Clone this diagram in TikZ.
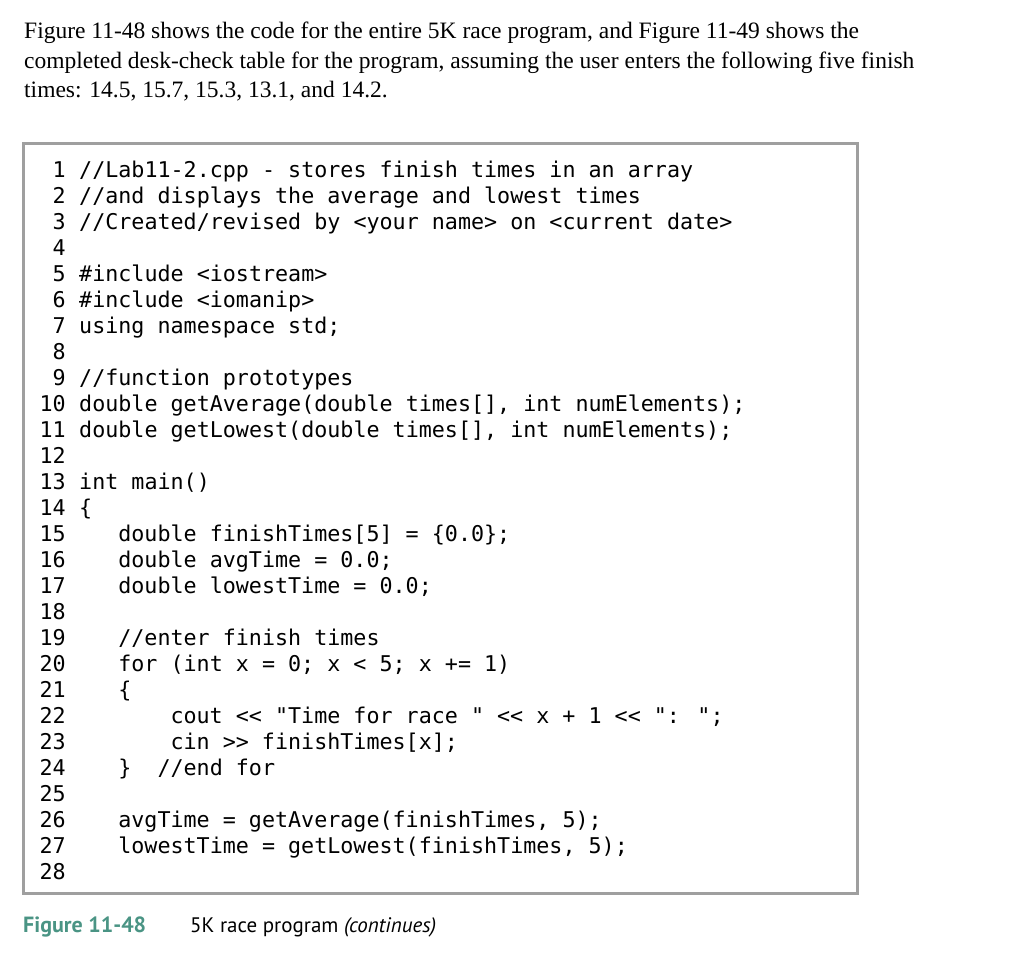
\documentclass[tikz,border=0pt]{standalone}
\usepackage{fontspec}
\setmainfont{Liberation Serif}
\newfontfamily\codefnt{DejaVu Sans Mono}
\newfontfamily\capfnt{PT Sans}
\definecolor{teal1}{HTML}{4A9484}
\begin{document}
\begin{tikzpicture}[x=1pt,y=-1pt,
  para/.style={anchor=base west,inner sep=0,font=\fontsize{23.5}{28}\selectfont},
  num/.style={anchor=base east,inner sep=0,font=\codefnt\fontsize{21.7}{26}\selectfont},
  ln/.style={anchor=base west,inner sep=0,font=\codefnt\fontsize{21.7}{26}\selectfont}]
\useasboundingbox (0,0) rectangle (1024,972);
\node[para] (p1) at (24,38) {Figure 11-48 shows the code for the entire 5K race program, and Figure 11-49 shows the};
\node[para] (p2) at (24,68) {completed desk-check table for the program, assuming the user enters the following five finish};
\node[para] (p3) at (24,97) {times: 14.5, 15.7, 15.3, 13.1, and 14.2.};
\draw[gray!75,line width=3] (23,143) rectangle (857,893);
\foreach \i in {1,...,28}{\node[num] (n\i) at (66,{177+(\i-1)*26}) {\i};}
\def\cw{13.05}
\newcommand\cl[3]{\node[ln] (c#1) at ({79+#2*\cw},{177+(#1-1)*26}) {#3};}
\cl{1}{0}{//Lab11-2.cpp - stores finish times in an array}
\cl{2}{0}{//and displays the average and lowest times}
\cl{3}{0}{//Created/revised by <your name> on <current date>}
\cl{5}{0}{\#include <iostream>}
\cl{6}{0}{\#include <iomanip>}
\cl{7}{0}{using namespace std;}
\cl{9}{0}{//function prototypes}
\cl{10}{0}{double getAverage(double times[], int numElements);}
\cl{11}{0}{double getLowest(double times[], int numElements);}
\cl{13}{0}{int main()}
\cl{14}{0}{\{}
\cl{15}{3}{double finishTimes[5] = \{0.0\};}
\cl{16}{3}{double avgTime = 0.0;}
\cl{17}{3}{double lowestTime = 0.0;}
\cl{19}{3}{//enter finish times}
\cl{20}{3}{for (int x = 0; x < 5; x += 1)}
\cl{21}{3}{\{}
\cl{22}{7}{cout << "Time for race " << x + 1 << ": ";}
\cl{23}{7}{cin >> finishTimes[x];}
\cl{24}{3}{\}\ \ //end for}
\cl{26}{3}{avgTime = getAverage(finishTimes, 5);}
\cl{27}{3}{lowestTime = getLowest(finishTimes, 5);}
\node[anchor=base west,inner sep=0,font=\capfnt\bfseries\fontsize{22}{26}\selectfont,text=teal1] (f) at (23,932) {Figure 11-48};
\node[anchor=base west,inner sep=0,font=\capfnt\fontsize{21}{26}\selectfont] (t) at (190,932) {5K race program \textit{(continues)}};
\end{tikzpicture}
\end{document}
